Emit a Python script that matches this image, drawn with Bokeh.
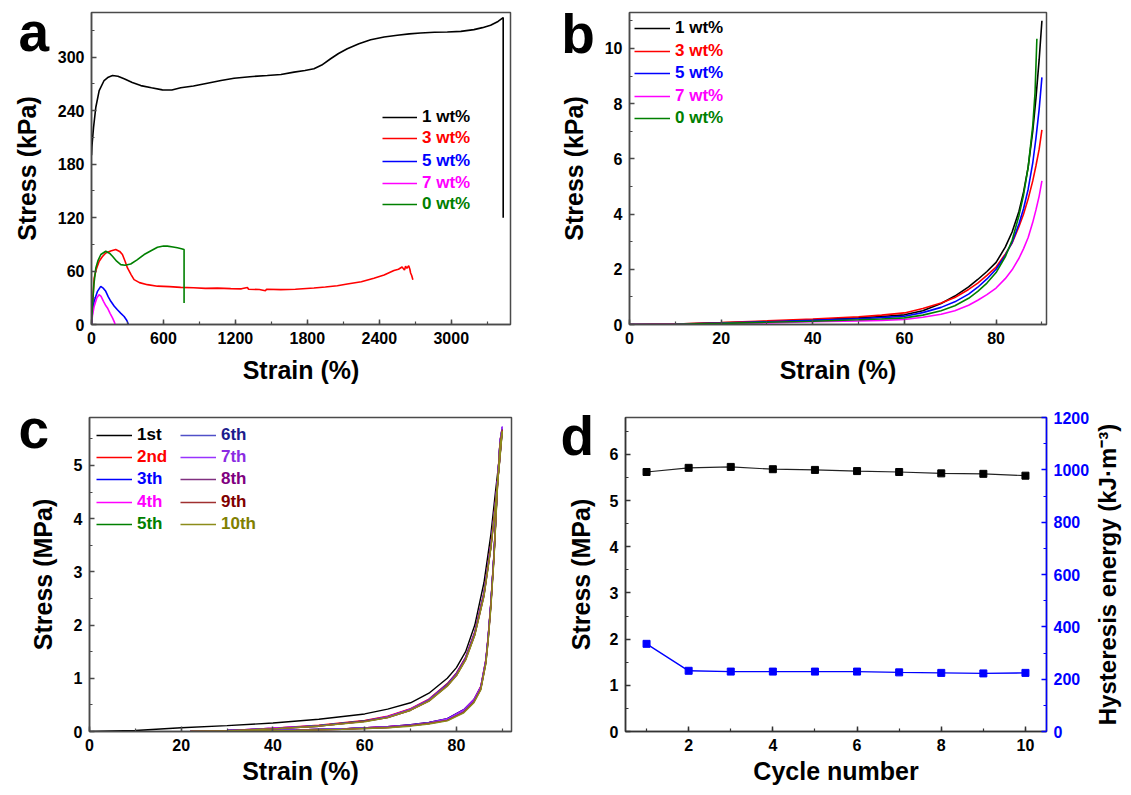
import math
from bokeh.plotting import figure
from bokeh.models import (Range1d, LinearAxis, SingleIntervalTicker, Legend,
                          LegendItem)
from bokeh.core.properties import value
from bokeh.layouts import column, row
from bokeh.embed import file_html
from bokeh.resources import INLINE

# ---------------- data: panel a (tensile, kPa vs %) ----------------
a_series = ["1 wt%", "3 wt%", "5 wt%", "7 wt%", "0 wt%"]
a1_x = [0, 3, 17, 36, 64, 105, 140, 175, 220, 272, 340, 411, 500, 591, 670, 744, 850, 966,
        1080, 1189, 1320, 1466, 1580, 1689, 1780, 1855, 1920, 1994, 2060, 2133, 2230, 2328,
        2440, 2550, 2650, 2744, 2860, 2967, 3080, 3189, 3260, 3328, 3390, 3433, 3433]
a1_y = [190, 199, 221, 243.7, 262.4, 273.7, 277.5, 279.3, 278.5, 275.6, 271.5, 268, 265.5,
        263.2, 263, 265.5, 267.5, 270.7, 273.8, 276.3, 278, 279.3, 280.5, 283.1, 285, 286.9,
        291, 298.1, 304, 309.4, 315, 319.5, 322.5, 324.4, 326, 327, 327.8, 328.1, 328.8,
        330.8, 333, 335.7, 340, 344.3, 119.7]
a3_x = [0, 8, 22, 40, 64, 90, 119, 160, 202, 235, 258, 280, 300, 330, 355, 400, 466, 550, 650,
        744, 850, 950, 1050, 1161, 1250, 1300, 1310, 1400, 1450, 1460, 1578, 1700, 1855, 1950,
        2050, 2133, 2250, 2355, 2440, 2522, 2560, 2590, 2610, 2619, 2630, 2645, 2655, 2661,
        2670, 2680]
a3_y = [0, 20, 52, 62, 71, 76, 80.3, 82.5, 84.1, 82, 78.5, 71, 63.4, 56, 50.3, 47, 44.7, 43,
        42.5, 41.7, 41.3, 40.5, 40.8, 40.2, 40.0, 41.5, 39.5, 39.2, 37.8, 39.5, 39.1, 39.5,
        40.9, 42, 43.5, 45.4, 48, 52, 55.5, 60.5, 62, 64.5, 61, 65.3, 63, 66, 62, 57.8, 55, 50.3]
a5_x = [0, 8, 22, 50, 77, 100, 119, 140, 161, 190, 216, 245, 272, 295, 308]
a5_y = [0, 14, 26, 37.2, 42.8, 40.5, 37.2, 31, 26, 20.5, 16.5, 12.5, 9, 4.5, 0]
a7_x = [0, 8, 22, 45, 63, 80, 100, 120, 133, 155, 175, 190, 197]
a7_y = [0, 10, 20.3, 30, 33.4, 31.5, 26, 21, 18.6, 12.5, 7.5, 3, 0]
a0_x = [0, 10, 20, 36, 55, 78, 119, 150, 175, 210, 244, 280, 327, 380, 439, 500, 550, 600,
        633, 680, 716, 750, 772, 772]
a0_y = [0, 25, 45, 63.4, 72, 78.5, 82.2, 80, 76.6, 71, 67.2, 66.5, 67.9, 72.5, 78.5, 83,
        86.7, 88, 87.9, 87, 86, 85, 84.1, 24]

# ---------------- data: panel b (compression, kPa vs %) ----------------
b_x = [0, 10, 20, 30, 40, 50, 55, 60, 64, 68, 71, 74, 76, 78, 80, 82, 83.5, 85, 86, 87, 88,
       88.7, 89.4, 90]
b1_y = [0, 0.02, 0.06, 0.11, 0.17, 0.24, 0.29, 0.35, 0.5, 0.76, 1.03, 1.36, 1.63, 1.92,
        2.25, 2.8, 3.35, 4.1, 4.8, 5.7, 7.0, 8.2, 9.6, 11.0]
b3_y = [0, 0.02, 0.07, 0.13, 0.2, 0.28, 0.34, 0.42, 0.58, 0.78, 0.98, 1.27, 1.5, 1.78,
        2.08, 2.55, 2.95, 3.55, 4.0, 4.55, 5.2, 5.75, 6.35, 7.05]
b5_y = [0, 0.01, 0.05, 0.1, 0.15, 0.21, 0.25, 0.3, 0.43, 0.62, 0.82, 1.1, 1.35, 1.65,
        2.0, 2.5, 2.98, 3.65, 4.2, 4.9, 5.85, 6.75, 7.8, 8.95]
b7_y = [0, 0.01, 0.03, 0.06, 0.1, 0.13, 0.15, 0.18, 0.26, 0.37, 0.5, 0.7, 0.88, 1.08,
        1.32, 1.66, 1.98, 2.4, 2.75, 3.15, 3.7, 4.15, 4.65, 5.2]
b0_x = [0, 10, 20, 30, 40, 50, 55, 60, 64, 68, 71, 74, 76, 78, 80, 82, 83.5, 85, 86, 87, 88,
        88.5, 88.9]
b0_y = [0, 0.01, 0.04, 0.08, 0.12, 0.17, 0.2, 0.24, 0.34, 0.5, 0.68, 0.95, 1.2, 1.5, 1.88,
        2.45, 3.05, 3.95, 4.7, 5.7, 7.2, 8.4, 10.35]

# ---------------- data: panel c (10 loading/unloading cycles, MPa vs %) ----------------
c_names = ["1st", "2nd", "3th", "4th", "5th", "6th", "7th", "8th", "9th", "10th"]
c1_load_x = [0, 10, 20, 30, 40, 50, 60, 65, 70, 74, 78, 80, 82, 84, 86, 87.5, 88.5, 89.3, 90]
c1_load_y = [0, 0.02, 0.07, 0.11, 0.16, 0.23, 0.33, 0.42, 0.54, 0.72, 1.0, 1.2, 1.5, 2.0,
             2.8, 3.7, 4.5, 5.1, 5.7]
cn_load_x = [22, 30, 40, 50, 60, 65, 70, 74, 78, 80, 82, 84, 86, 87.5, 88.5, 89.3, 90]
c2_load = [0, 0.02, 0.06, 0.12, 0.21, 0.29, 0.43, 0.61, 0.90, 1.10, 1.40, 1.88, 2.62, 3.52, 4.32, 5.02, 5.72]
c3_load = [0, 0.02, 0.06, 0.11, 0.20, 0.28, 0.42, 0.60, 0.89, 1.09, 1.39, 1.86, 2.60, 3.50, 4.30, 5.00, 5.70]
c4_load = [0, 0.02, 0.06, 0.11, 0.20, 0.28, 0.42, 0.60, 0.88, 1.08, 1.38, 1.85, 2.59, 3.49, 4.29, 5.00, 5.70]
c5_load = [0, 0.02, 0.05, 0.11, 0.20, 0.27, 0.41, 0.59, 0.88, 1.07, 1.37, 1.84, 2.58, 3.48, 4.28, 4.99, 5.69]
c6_load = [0, 0.02, 0.05, 0.11, 0.19, 0.27, 0.41, 0.59, 0.87, 1.07, 1.37, 1.84, 2.58, 3.48, 4.28, 5.00, 5.72]
c7_load = [0, 0.02, 0.05, 0.10, 0.19, 0.27, 0.41, 0.58, 0.87, 1.06, 1.36, 1.83, 2.57, 3.47, 4.27, 5.01, 5.73]
c8_load = [0, 0.02, 0.05, 0.10, 0.19, 0.26, 0.40, 0.58, 0.86, 1.06, 1.36, 1.82, 2.56, 3.46, 4.26, 4.98, 5.68]
c9_load = [0, 0.01, 0.05, 0.10, 0.19, 0.26, 0.40, 0.57, 0.86, 1.05, 1.35, 1.82, 2.55, 3.45, 4.25, 4.97, 5.66]
c10_load = [0, 0.01, 0.05, 0.10, 0.18, 0.26, 0.40, 0.57, 0.85, 1.05, 1.34, 1.81, 2.54, 3.44, 4.24, 4.96, 5.64]
c_unload_x = [90, 89.5, 88.9, 88.2, 87.5, 86.9, 86.4, 85.3, 83.8, 81.6, 78, 74, 70, 65, 55, 45, 35, 27, 22]
c1_unload = [5.7, 5.45, 4.6, 3.35, 2.4, 1.75, 1.32, 0.82, 0.57, 0.38, 0.22, 0.16, 0.12, 0.09, 0.05, 0.03, 0.015, 0.005, 0]
c2_unload = [5.72, 5.46, 4.62, 3.38, 2.43, 1.78, 1.35, 0.85, 0.60, 0.41, 0.24, 0.17, 0.13, 0.09, 0.05, 0.03, 0.015, 0.005, 0]
c3_unload = [5.70, 5.44, 4.60, 3.36, 2.42, 1.77, 1.34, 0.84, 0.60, 0.41, 0.24, 0.17, 0.13, 0.09, 0.05, 0.03, 0.015, 0.005, 0]
c4_unload = [5.70, 5.43, 4.58, 3.34, 2.40, 1.76, 1.33, 0.83, 0.59, 0.40, 0.23, 0.16, 0.12, 0.09, 0.05, 0.03, 0.015, 0.005, 0]
c5_unload = [5.69, 5.42, 4.57, 3.33, 2.39, 1.74, 1.31, 0.81, 0.57, 0.39, 0.22, 0.16, 0.12, 0.08, 0.05, 0.03, 0.012, 0.004, 0]
c6_unload = [5.72, 5.45, 4.59, 3.34, 2.39, 1.74, 1.31, 0.81, 0.57, 0.38, 0.22, 0.15, 0.11, 0.08, 0.05, 0.03, 0.012, 0.004, 0]
c7_unload = [5.73, 5.46, 4.60, 3.35, 2.40, 1.75, 1.32, 0.82, 0.58, 0.39, 0.23, 0.16, 0.12, 0.08, 0.05, 0.03, 0.012, 0.004, 0]
c8_unload = [5.68, 5.41, 4.55, 3.31, 2.37, 1.72, 1.29, 0.80, 0.56, 0.37, 0.21, 0.15, 0.11, 0.08, 0.04, 0.02, 0.010, 0.003, 0]
c9_unload = [5.66, 5.39, 4.53, 3.29, 2.35, 1.70, 1.28, 0.79, 0.55, 0.36, 0.21, 0.15, 0.11, 0.07, 0.04, 0.02, 0.010, 0.003, 0]
c10_unload = [5.64, 5.37, 4.51, 3.27, 2.33, 1.69, 1.27, 0.78, 0.54, 0.35, 0.20, 0.14, 0.10, 0.07, 0.04, 0.02, 0.010, 0.003, 0]

# ---------------- data: panel d (cycle number) ----------------
d_cycle = [1, 2, 3, 4, 5, 6, 7, 8, 9, 10]
d_stress = [5.62, 5.71, 5.73, 5.68, 5.665, 5.64, 5.62, 5.59, 5.58, 5.54]
d_hysteresis = [335, 232, 229, 229, 229, 229, 226, 224, 222, 224]

# ---------------- styling ----------------
FONT = "Liberation Sans"
FRAME = "#4a4a4a"
LW = 1.6


def base_fig(w, h, xr, yr, left, right, top, bottom):
    p = figure(width=w, height=h, x_range=xr, y_range=yr, output_backend="svg",
               toolbar_location=None, min_border_left=left, min_border_right=right,
               min_border_top=top, min_border_bottom=bottom)
    p.xgrid.visible = False
    p.ygrid.visible = False
    p.outline_line_color = FRAME
    p.outline_line_width = 1.5
    p.outline_line_alpha = 1
    return p


def style_axis(ax, lab_standoff, color="black", line_color=FRAME, size="25px"):
    ax.axis_line_color = line_color
    ax.axis_line_width = 1.5
    ax.major_tick_line_color = line_color
    ax.minor_tick_line_color = line_color
    ax.major_tick_line_width = 1.5
    ax.minor_tick_line_width = 1.2
    ax.major_tick_in = 5
    ax.major_tick_out = 0
    ax.minor_tick_in = 3
    ax.minor_tick_out = 0
    ax.major_label_text_font = FONT
    ax.major_label_text_font_size = "16px"
    ax.major_label_text_font_style = "bold"
    ax.major_label_text_color = color
    ax.major_label_standoff = 7
    ax.axis_label_text_font = FONT
    ax.axis_label_text_font_size = size
    ax.axis_label_text_font_style = "bold"
    ax.axis_label_text_color = "black"
    ax.axis_label_standoff = lab_standoff


def add_legend(p, renderer, text, color, x, y, glyph_w=35):
    leg = Legend(items=[LegendItem(label=text, renderers=[renderer])], location=(x, y),
                 label_text_font=FONT, label_text_font_size="17px",
                 label_text_font_style="bold", label_text_color=color,
                 glyph_width=glyph_w, glyph_height=20, label_height=20,
                 label_standoff=5, padding=0, margin=0, spacing=0,
                 border_line_alpha=0, background_fill_alpha=0)
    p.add_layout(leg)


def to_data(p, px, py, frame_w, frame_h):
    # px, py: offset in pixels from the frame's bottom-left corner
    xr, yr = p.x_range, p.y_range
    x = xr.start + px * (xr.end - xr.start) / frame_w
    y = yr.start + py * (yr.end - yr.start) / frame_h
    return x, y


def add_text(p, txt, px, py, frame_w, frame_h, size, align="left", baseline="alphabetic",
             angle=0.0):
    x, y = to_data(p, px, py, frame_w, frame_h)
    p.text(x=[x], y=[y], text=[txt], text_font=value(FONT), text_font_size=value(size),
           text_font_style="bold", text_align=align, text_baseline=baseline,
           text_color="black", angle=angle, level="overlay")


LETTER = "55px"
LSHIFT = 22  # empirical correction of the rendered baseline

# layout: column 1 width 556, column 2 width 567; row 1 height 392, row 2 height 395
# ---------------- panel a ----------------
pa = base_fig(556, 392, Range1d(0, 3494), Range1d(0, 350), 91, 46, 12, 68)
pa.xaxis.ticker = SingleIntervalTicker(interval=600, num_minor_ticks=2)
pa.yaxis.ticker = SingleIntervalTicker(interval=60, num_minor_ticks=2)
pa.xaxis.axis_label = "Strain (%)"
pa.yaxis.axis_label = "Stress (kPa)"
style_axis(pa.xaxis[0], 9)
style_axis(pa.yaxis[0], 14)
a_data = [(a1_x, a1_y, "black"), (a3_x, a3_y, "#ff0000"), (a5_x, a5_y, "#0000ff"),
          (a7_x, a7_y, "#ff00ff"), (a0_x, a0_y, "#008000")]
a_legend_y = [197.3, 175.7, 153, 131.3, 109.7]
for (xs, ys, col), name, ly in zip(a_data, a_series, a_legend_y):
    r = pa.line(xs, ys, line_color=col, line_width=LW)
    add_legend(pa, r, name, col, 291, ly)
add_text(pa, "a", -73, 271 + LSHIFT, 419, 312, LETTER)

# ---------------- panel b ----------------
pb = base_fig(567, 392, Range1d(0, 91), Range1d(0, 11.3), 69, 77, 12, 68)
pb.xaxis.ticker = SingleIntervalTicker(interval=20, num_minor_ticks=2)
pb.yaxis.ticker = SingleIntervalTicker(interval=2, num_minor_ticks=2)
pb.xaxis.axis_label = "Strain (%)"
pb.yaxis.axis_label = "Stress (kPa)"
style_axis(pb.xaxis[0], 9)
style_axis(pb.yaxis[0], 14)
b_data = [(b_x, b1_y, "black"), (b_x, b3_y, "#ff0000"), (b_x, b5_y, "#0000ff"),
          (b_x, b7_y, "#ff00ff"), (b0_x, b0_y, "#008000")]
b_legend_y = [285.7, 263.3, 240.7, 218.3, 196.3]
for (xs, ys, col), name, ly in zip(b_data, a_series, b_legend_y):
    r = pb.line(xs, ys, line_color=col, line_width=LW)
    add_legend(pb, r, name, col, 5, ly, glyph_w=36)
add_text(pb, "b", -69, 269 + LSHIFT, 421, 312, LETTER)

# ---------------- panel c ----------------
pc = base_fig(556, 395, Range1d(0, 92), Range1d(0, 5.9), 89, 45, 25, 56)
pc.xaxis.ticker = SingleIntervalTicker(interval=20, num_minor_ticks=2)
pc.yaxis.ticker = SingleIntervalTicker(interval=1, num_minor_ticks=2)
pc.xaxis.axis_label = "Strain (%)"
pc.yaxis.axis_label = "Stress (MPa)"
style_axis(pc.xaxis[0], 3)
style_axis(pc.yaxis[0], 14)
c_colors = ["black", "#ff0000", "#0000ff", "#ff00ff", "#008000",
            "#1c1c8c", "#8a2be2", "#800080", "#800000", "#808000"]
c_line_colors = ["black", "#ff0000", "#0000ff", "#ff00ff", "#008000",
                 "#5050c8", "#9933ff", "#803080", "#a03030", "#8c8c1a"]
c_loads = [c1_load_y, c2_load, c3_load, c4_load, c5_load, c6_load, c7_load, c8_load,
           c9_load, c10_load]
c_unloads = [c1_unload, c2_unload, c3_unload, c4_unload, c5_unload, c6_unload, c7_unload,
             c8_unload, c9_unload, c10_unload]
c_legend_y = [286, 264.3, 241.7, 219.3, 197.3]
for i, name in enumerate(c_names):
    lx = c1_load_x if i == 0 else cn_load_x
    col = c_line_colors[i]
    r = pc.line(lx, c_loads[i], line_color=col, line_width=1.4)
    pc.line(c_unload_x, c_unloads[i], line_color=col, line_width=1.4)
    add_legend(pc, r, name, c_colors[i], 7 if i < 5 else 91, c_legend_y[i % 5], glyph_w=36)
add_text(pc, "c", -71, 281 + LSHIFT, 422, 314, LETTER)

# ---------------- panel d ----------------
pd_ = base_fig(567, 395, Range1d(0.5, 10.5), Range1d(0, 6.8), 69, 77, 25, 56)
pd_.extra_y_ranges = {"hyst": Range1d(0, 1200)}
pd_.xaxis.ticker = SingleIntervalTicker(interval=2, num_minor_ticks=2)
pd_.yaxis.ticker = SingleIntervalTicker(interval=1, num_minor_ticks=2)
pd_.xaxis.axis_label = "Cycle number"
pd_.yaxis.axis_label = "Stress (MPa)"
style_axis(pd_.xaxis[0], 3, line_color="#333333")
style_axis(pd_.yaxis[0], 12, line_color="#333333")
rax = LinearAxis(y_range_name="hyst",
                 ticker=SingleIntervalTicker(interval=200, num_minor_ticks=2))
style_axis(rax, 6, color="#0000ff", line_color="#0000ff", size="24px")
pd_.add_layout(rax, "right")
pd_.line(d_cycle, d_stress, line_color="#222222", line_width=1.2)
pd_.scatter(d_cycle, d_stress, marker="square", size=7, fill_color="black",
            line_color="black")
pd_.line(d_cycle, d_hysteresis, y_range_name="hyst", line_color="#0000ff", line_width=1.4)
pd_.scatter(d_cycle, d_hysteresis, y_range_name="hyst", marker="square", size=7,
            fill_color="#0000ff", line_color="#0000ff")
add_text(pd_, "d", -65, 274 + LSHIFT, 421, 314, LETTER)
# right-hand axis title, reading bottom to top, just right of the blue tick labels
add_text(pd_, "Hysteresis energy (kJ·m⁻³)", 421 + 61, 157, 421, 314, "24px",
         align="center", baseline="middle", angle=math.pi / 2)

layout = column(row(pa, pb), row(pc, pd_))
open("out.html", "w").write(file_html(layout, INLINE))
